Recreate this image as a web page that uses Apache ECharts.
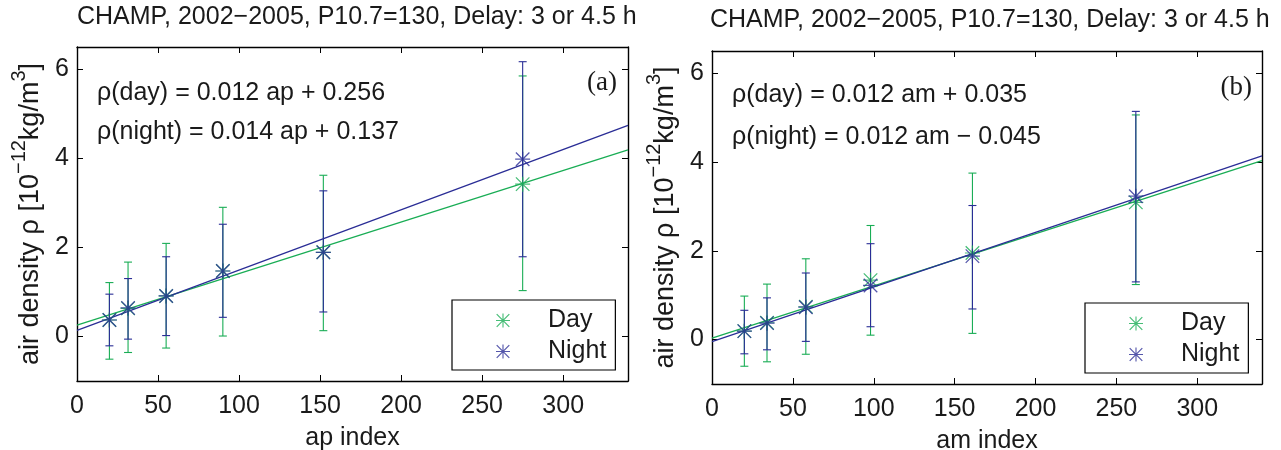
<!DOCTYPE html>
<html>
<head>
<meta charset="utf-8">
<script src="https://cdn.jsdelivr.net/npm/echarts@6/dist/echarts.min.js"></script>
<style>
html, body { margin: 0; padding: 0; background: #fff; }
#main { width: 1281px; height: 450px; }
</style>
</head>
<body>
<div id="main"></div>
<script>
// panel (a): ap index
var apX = [20, 31.5, 55, 90, 152, 275];
var apDay = [0.37, 0.63, 0.91, 1.47, 1.89, 3.42];
var apDayLow = [-0.51, -0.36, -0.26, 0.01, 0.13, 1.03];
var apDayHigh = [1.21, 1.67, 2.09, 2.90, 3.62, 5.85];
var apNight = [0.37, 0.64, 0.91, 1.47, 1.89, 3.98];
var apNightLow = [-0.21, -0.06, 0.02, 0.43, 0.55, 1.79];
var apNightHigh = [0.95, 1.30, 1.79, 2.52, 3.27, 6.17];
var apFitDay = [[0, 0.256], [340, 4.19]];
var apFitNight = [[0, 0.137], [340, 4.74]];

// panel (b): am index
var amX = [20, 34, 58, 98, 161, 262];
var amDay = [0.19, 0.38, 0.74, 1.34, 1.95, 3.09];
var amDayLow = [-0.60, -0.50, -0.33, 0.10, 0.14, 1.24];
var amDayHigh = [0.98, 1.25, 1.82, 2.57, 3.75, 5.06];
var amNight = [0.19, 0.37, 0.73, 1.22, 1.88, 3.23];
var amNightLow = [-0.32, -0.23, -0.04, 0.29, 0.69, 1.30];
var amNightHigh = [0.66, 0.94, 1.50, 2.16, 3.02, 5.14];
var amFitDay = [[0, 0.035], [340, 4.03]];
var amFitNight = [[0, -0.045], [340, 4.14]];

var xTicks = [0, 50, 100, 150, 200, 250, 300];
var yTicks = [0, 2, 4, 6];

var titleText = 'CHAMP, 2002\u22122005, P10.7=130, Delay: 3 or 4.5 h';
var eqA = ['\u03c1(day) = 0.012 ap + 0.256', '\u03c1(night) = 0.014 ap + 0.137'];
var eqB = ['\u03c1(day) = 0.012 am + 0.035', '\u03c1(night) = 0.012 am \u2212 0.045'];

var GREEN = '#19ad55';
var BLUE = '#2a2d96';
var FONT = "'Liberation Sans', Arial, Helvetica, sans-serif";
var SERIF = "'Liberation Serif', 'Times New Roman', serif";
var TXT = '#1a1a1a';
var FS = 25;

// asterisk marker, like matlab '*'
var STAR = 'path://M0,9.2L20,9.2L20,10.8L0,10.8Z M9.2,0L10.8,0L10.8,20L9.2,20Z' +
	' M1.6,0.4L19.6,18.4L18.4,19.6L0.4,1.6Z M19.6,1.6L1.6,19.6L0.4,18.4L18.4,0.4Z';

function zip(xs, ys) {
	var out = [];
	for (var i = 0; i < xs.length; i++) {
		out.push([xs[i], ys[i]]);
	}
	return out;
}

function zip3(xs, lo, hi) {
	var out = [];
	for (var i = 0; i < xs.length; i++) {
		out.push([xs[i], lo[i], hi[i]]);
	}
	return out;
}

function errorBar(color) {
	return function (params, api) {
		var x = api.value(0);
		var lo = api.coord([x, api.value(1)]);
		var hi = api.coord([x, api.value(2)]);
		var cap = 4;
		var st = { stroke: color, lineWidth: 1.1 };
		return {
			type: 'group',
			children: [
				{ type: 'line', shape: { x1: lo[0], y1: lo[1], x2: hi[0], y2: hi[1] }, style: st },
				{ type: 'line', shape: { x1: lo[0] - cap, y1: lo[1], x2: lo[0] + cap, y2: lo[1] }, style: st },
				{ type: 'line', shape: { x1: hi[0] - cap, y1: hi[1], x2: hi[0] + cap, y2: hi[1] }, style: st }
			]
		};
	};
}

function panelSeries(k, xs, day, dLo, dHi, night, nLo, nHi, fitD, fitN) {
	return [
		{ type: 'custom', name: 'errDay', xAxisIndex: k, yAxisIndex: k, renderItem: errorBar(GREEN),
			data: zip3(xs, dLo, dHi), encode: { x: 0, y: [1, 2] }, silent: true, z: 2 },
		{ type: 'custom', name: 'errNight', xAxisIndex: k, yAxisIndex: k, renderItem: errorBar(BLUE),
			data: zip3(xs, nLo, nHi), encode: { x: 0, y: [1, 2] }, silent: true, z: 3 },
		{ type: 'line', name: 'fitDay', xAxisIndex: k, yAxisIndex: k, data: fitD, showSymbol: false,
			lineStyle: { color: GREEN, width: 1.3 }, silent: true, z: 4 },
		{ type: 'line', name: 'fitNight', xAxisIndex: k, yAxisIndex: k, data: fitN, showSymbol: false,
			lineStyle: { color: BLUE, width: 1.3 }, silent: true, z: 4 },
		{ type: 'scatter', name: 'Day', xAxisIndex: k, yAxisIndex: k, data: zip(xs, day),
			symbol: STAR, symbolSize: 15, itemStyle: { color: GREEN }, z: 5 },
		{ type: 'scatter', name: 'Night', xAxisIndex: k, yAxisIndex: k, data: zip(xs, night),
			symbol: STAR, symbolSize: 15, itemStyle: { color: BLUE }, z: 6 }
	];
}

function xAxisFor(grid, pos, name) {
	return {
		type: 'value', gridIndex: grid, position: pos, min: 0, max: 340,
		name: name, nameLocation: 'middle', nameGap: 45,
		nameTextStyle: { fontSize: FS, color: TXT, fontFamily: FONT },
		axisLine: { show: true, onZero: false, lineStyle: { color: '#000', width: 1.4 } },
		axisTick: { show: true, inside: true, length: 6, customValues: xTicks, lineStyle: { color: '#000' } },
		axisLabel: { show: pos === 'bottom', customValues: xTicks, fontSize: FS, color: TXT, fontFamily: FONT, margin: 13 },
		splitLine: { show: false }
	};
}

var yName = '{n|air density \u03c1 [10}{s|\u221212}{n|kg/m}{s|3}{n|]}';

function yAxisFor(grid, pos) {
	return {
		type: 'value', gridIndex: grid, position: pos, min: -1, max: 6.5,
		name: pos === 'left' ? yName : '', nameLocation: 'middle', nameGap: 33, nameRotate: 90,
		nameTextStyle: {
			fontSize: 27, color: TXT, fontFamily: FONT,
			rich: {
				n: { fontSize: 27, color: TXT, fontFamily: FONT, lineHeight: 35, verticalAlign: 'bottom' },
				s: { fontSize: 20, color: TXT, fontFamily: FONT, lineHeight: 21, verticalAlign: 'top' }
			}
		},
		axisLine: { show: true, onZero: false, lineStyle: { color: '#000', width: 1.4 } },
		axisTick: { show: true, inside: true, length: 6, customValues: yTicks, lineStyle: { color: '#000' } },
		axisLabel: { show: pos === 'left', customValues: yTicks, fontSize: FS, color: TXT, fontFamily: FONT, margin: 8 },
		splitLine: { show: false }
	};
}

function legendFor(left, top) {
	return {
		data: ['Day', 'Night'], orient: 'vertical', left: left, top: top,
		icon: STAR,
		padding: [8, 9, 6, 44], itemWidth: 14, itemHeight: 14, itemGap: 6,
		borderColor: '#000', borderWidth: 1.2, borderRadius: 0, backgroundColor: '#fff',
		selectedMode: false,
		textStyle: { fontSize: FS, color: TXT, fontFamily: FONT, padding: [0, 0, 0, 33] }
	};
}

function textEl(x, y, str, extra) {
	var st = { text: str, fontSize: FS, fill: TXT, fontFamily: FONT, textVerticalAlign: 'middle' };
	for (var k in extra) st[k] = extra[k];
	return { type: 'text', x: x, y: y, style: st, z: 50 };
}

var chart = echarts.init(document.getElementById('main'), null, { renderer: 'canvas' });

var option = {
	backgroundColor: '#fff',
	animation: false,
	title: [
		{ text: titleText, left: 77, top: 5, padding: 0,
			textStyle: { fontSize: FS, fontWeight: 'normal', color: TXT, fontFamily: FONT } },
		{ text: titleText, left: 710, top: 8, padding: 0,
			textStyle: { fontSize: FS, fontWeight: 'normal', color: TXT, fontFamily: FONT } }
	],
	grid: [
		{ left: 77, top: 47, width: 551, height: 334, outerBoundsMode: 'none' },
		{ left: 712, top: 51, width: 550, height: 333, outerBoundsMode: 'none' }
	],
	xAxis: [
		xAxisFor(0, 'bottom', 'ap index'),
		xAxisFor(0, 'top', ''),
		xAxisFor(1, 'bottom', 'am index'),
		xAxisFor(1, 'top', '')
	],
	yAxis: [
		yAxisFor(0, 'left'),
		yAxisFor(0, 'right'),
		yAxisFor(1, 'left'),
		yAxisFor(1, 'right')
	],
	legend: [legendFor(452, 300), legendFor(1085, 303)],
	graphic: [
		textEl(97, 93, eqA[0]),
		textEl(97, 132, eqA[1]),
		textEl(732, 95, eqB[0]),
		textEl(732, 137, eqB[1]),
		textEl(617, 83, '(a)', { fontFamily: SERIF, fontSize: 27, textAlign: 'right' }),
		textEl(1252, 88, '(b)', { fontFamily: SERIF, fontSize: 27, textAlign: 'right' })
	],
	series: []
		.concat(panelSeries(0, apX, apDay, apDayLow, apDayHigh, apNight, apNightLow, apNightHigh, apFitDay, apFitNight))
		.concat(panelSeries(2, amX, amDay, amDayLow, amDayHigh, amNight, amNightLow, amNightHigh, amFitDay, amFitNight))
};

chart.setOption(option);
</script>
</body>
</html>
